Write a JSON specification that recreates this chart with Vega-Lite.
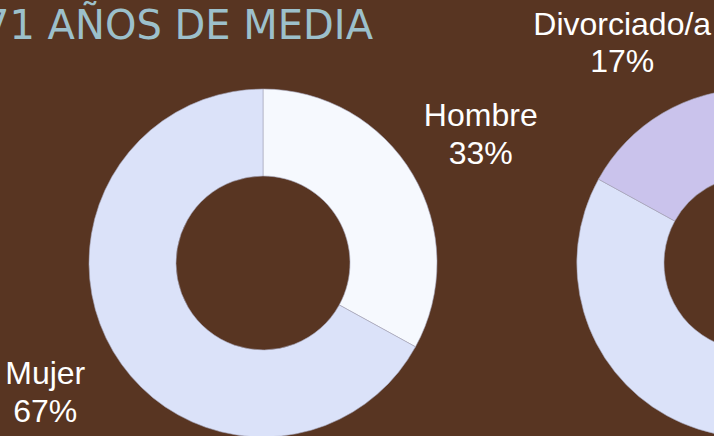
{
  "$schema": "https://vega.github.io/schema/vega-lite/v6.json",
  "width": 714,
  "height": 346,
  "autosize": {"type": "none"},
  "padding": {"top": 90, "left": 0, "right": 0, "bottom": 0},
  "background": "#583522",
  "config": {"view": {"stroke": null}},
  "title": {
    "text": "71 AÑOS DE MEDIA",
    "anchor": "start",
    "frame": "group",
    "font": "DejaVu Sans",
    "fontSize": 40,
    "fontWeight": "normal",
    "color": "#9cc0cb",
    "baseline": "alphabetic",
    "dx": -16,
    "dy": 70,
    "offset": 0
  },
  "data": {
    "values": [
      {"grafico": "Sexo", "categoria": "Hombre", "porcentaje": 0.33, "orden": 1},
      {"grafico": "Sexo", "categoria": "Mujer", "porcentaje": 0.67, "orden": 2},
      {"grafico": "Estado civil", "categoria": "Casado/a", "porcentaje": 0.33, "orden": 1},
      {"grafico": "Estado civil", "categoria": "Viudo/a", "porcentaje": 0.50, "orden": 2},
      {"grafico": "Estado civil", "categoria": "Divorciado/a", "porcentaje": 0.17, "orden": 3}
    ]
  },
  "encoding": {
    "x": {"field": "grafico", "type": "nominal", "scale": {"domain": ["Sexo", "Estado civil"], "range": [263, 751], "padding": 0}, "axis": null},
    "theta": {"field": "porcentaje", "type": "quantitative", "stack": true, "scale": {"domain": [0, 1]}},
    "order": {"field": "orden", "type": "quantitative"}
  },
  "layer": [
    {
      "transform": [{"filter": "datum.grafico === 'Sexo'"}],
      "layer": [
        {
          "mark": {"type": "arc", "outerRadius": 174, "innerRadius": 87, "stroke": "#a6a6ba", "strokeWidth": 0.6},
          "encoding": {
            "color": {
              "field": "categoria",
              "type": "nominal",
              "scale": {
                "domain": ["Hombre", "Mujer", "Casado/a", "Viudo/a", "Divorciado/a"],
                "range": ["#f6f9fe", "#dbe2f9", "#eef2fc", "#dbe2f9", "#cac3ec"]
              },
              "legend": null
            }
          }
        },
        {
          "mark": {"type": "text", "radius": 253, "font": "Liberation Sans", "fontSize": 32, "color": "#ffffff", "baseline": "alphabetic", "dy": -8},
          "encoding": {"text": {"field": "categoria", "type": "nominal"}}
        },
        {
          "mark": {"type": "text", "radius": 253, "font": "Liberation Sans", "fontSize": 32, "color": "#ffffff", "baseline": "alphabetic", "dy": 30},
          "encoding": {"text": {"field": "porcentaje", "type": "quantitative", "format": ".0%"}}
        }
      ]
    },
    {
      "transform": [{"filter": "datum.grafico === 'Estado civil'"}],
      "layer": [
        {
          "mark": {"type": "arc", "outerRadius": 174, "innerRadius": 87, "stroke": "#a6a6ba", "strokeWidth": 0.6},
          "encoding": {
            "color": {"field": "categoria", "type": "nominal", "legend": null}
          }
        },
        {
          "mark": {"type": "text", "radius": 253, "font": "Liberation Sans", "fontSize": 32, "color": "#ffffff", "baseline": "alphabetic", "dy": -10},
          "encoding": {"text": {"field": "categoria", "type": "nominal"}}
        },
        {
          "mark": {"type": "text", "radius": 253, "font": "Liberation Sans", "fontSize": 32, "color": "#ffffff", "baseline": "alphabetic", "dy": 27},
          "encoding": {"text": {"field": "porcentaje", "type": "quantitative", "format": ".0%"}}
        }
      ]
    }
  ]
}
